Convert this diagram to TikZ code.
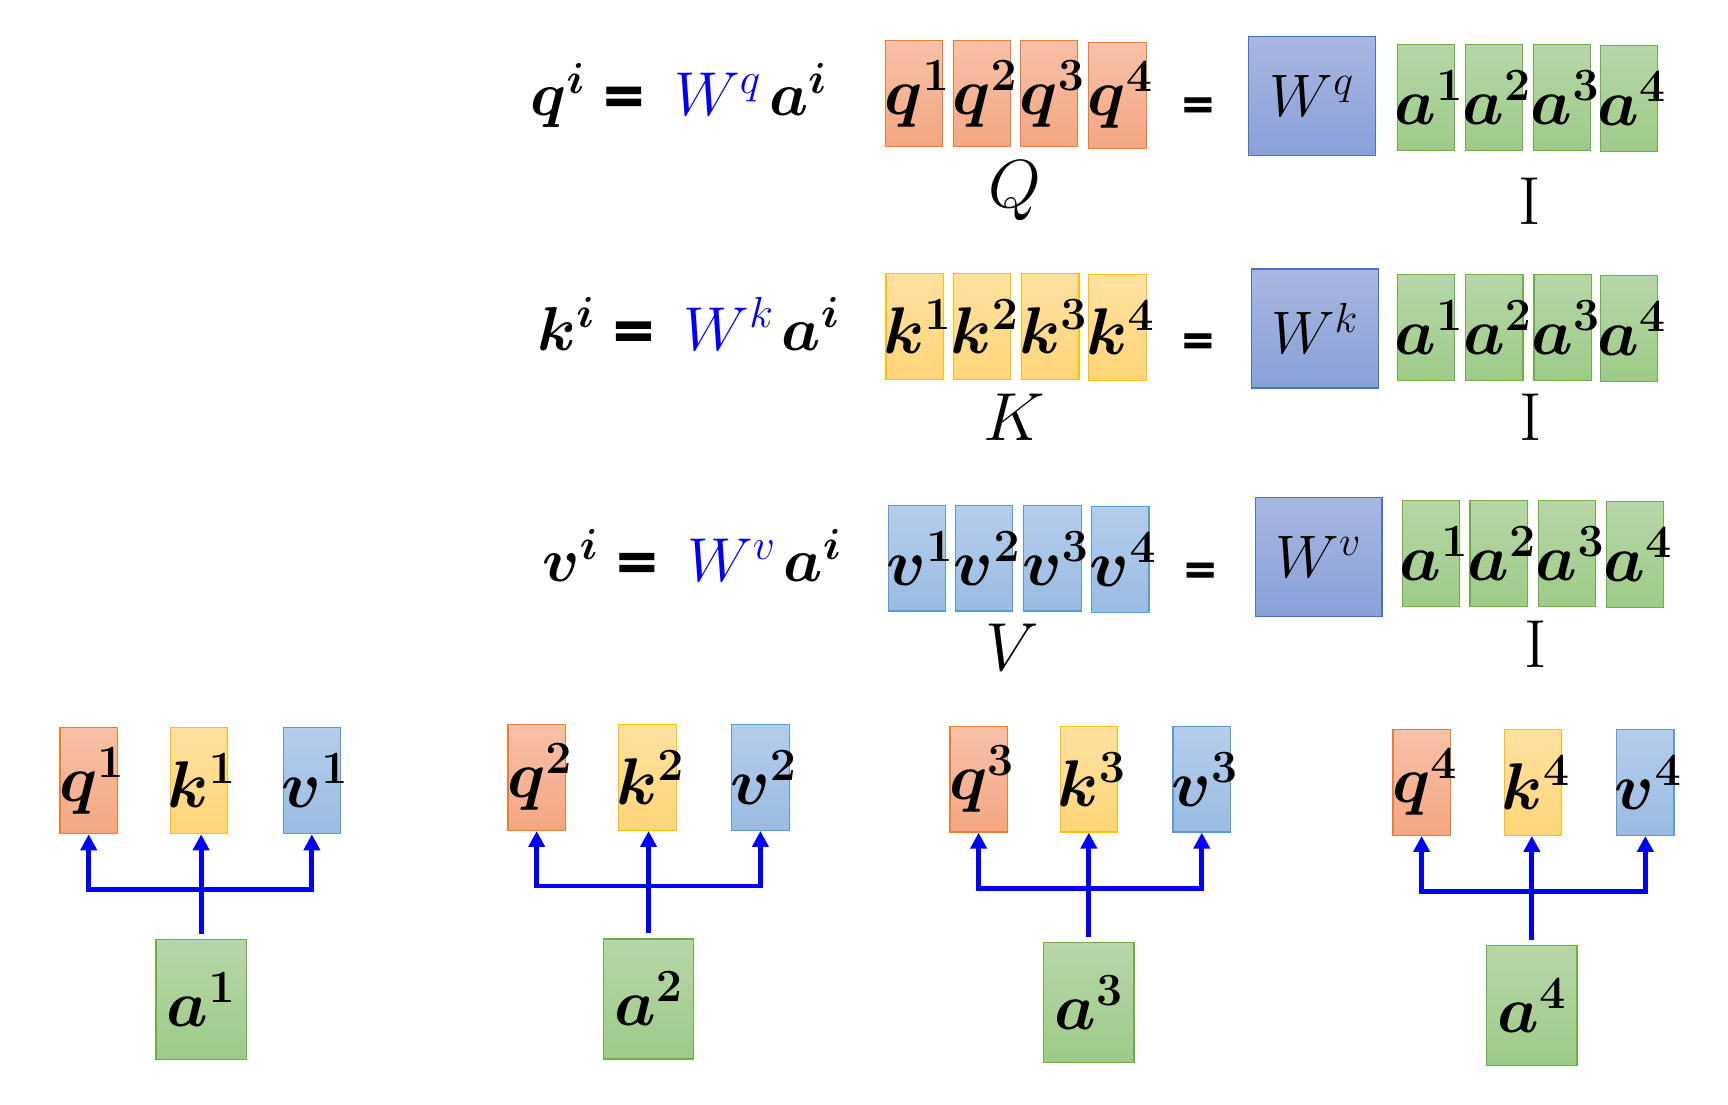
\RequirePackage{fix-cm}
\documentclass[tikz,border=0pt]{standalone}
\usepackage{fontspec}
\usetikzlibrary{arrows.meta}
\newfontfamily\eqsign[BoldFeatures={FakeBold=2}]{DejaVu Sans}
\definecolor{orT}{RGB}{247,193,167}\definecolor{orB}{RGB}{244,166,131}\definecolor{orD}{RGB}{237,125,49}
\definecolor{yeT}{RGB}{255,225,160}\definecolor{yeB}{RGB}{255,213,120}\definecolor{yeD}{RGB}{255,192,0}
\definecolor{blT}{RGB}{181,205,235}\definecolor{blB}{RGB}{155,187,227}\definecolor{blD}{RGB}{91,155,213}
\definecolor{grT}{RGB}{183,214,169}\definecolor{grB}{RGB}{158,203,135}\definecolor{grD}{RGB}{112,173,71}
\definecolor{wT}{RGB}{169,182,225}\definecolor{wB}{RGB}{137,160,216}\definecolor{wD}{RGB}{68,114,196}
\newcommand\celltxt[1]{\makebox[0pt]{\hspace{3pt}$#1$}}
\newcommand\smalleq{\mkern4mu\raisebox{1.2pt}{\eqsign\bfseries\fontsize{27}{29}\selectfont =}\mkern7mu}
\tikzset{
  cell/.style={draw, line width=0.6pt, inner sep=0pt, minimum width=28.7pt, minimum height=52.9pt,
    font=\fontsize{33}{40}\selectfont\boldmath},
  qcell/.style={cell, draw=orD, top color=orT, bottom color=orB},
  kcell/.style={cell, draw=yeD, top color=yeT, bottom color=yeB},
  vcell/.style={cell, draw=blD, top color=blT, bottom color=blB},
  acell/.style={cell, draw=grD, top color=grT, bottom color=grB},
  bigacell/.style={acell, minimum width=45.2pt, minimum height=60pt},
  wcell/.style={draw=wD, line width=0.6pt, top color=wT, bottom color=wB, inner sep=0pt,
    minimum width=63.4pt, minimum height=59.5pt, font=\fontsize{30}{36}\selectfont},
  eqn/.style={anchor=base, inner sep=0pt, font=\fontsize{31}{40}\selectfont\boldmath},
  lbl/.style={anchor=base, inner sep=0pt, font=\fontsize{34}{40}\selectfont},
  eqs/.style={inner sep=0pt, font=\eqsign\bfseries\fontsize{21}{24}\selectfont},
  arr/.style={draw=blue, line width=2.4pt, -{Triangle[width=8pt,length=8pt]}}
}
\begin{document}
\begin{tikzpicture}[x=0.551pt,y=-0.551pt]
\useasboundingbox (0,0) rectangle (1568,1002);

% equations
\node[eqn] (eq1) at (616,105) {$q^i\smalleq\mbox{\unboldmath$\color{blue}W^{q}$}\mkern2mu a^i$};
\node[eqn] (eq2) at (625,318) {$k^i\smalleq\mbox{\unboldmath$\color{blue}W^{k}$}\mkern2mu a^i$};
\node[eqn] (eq3) at (628,528) {$v^i\smalleq\mbox{\unboldmath$\color{blue}W^{v}$}\mkern2mu a^i$};

% row Q
\node[qcell] (Q1) at (829.5,85) {\celltxt{q^1}};
\node[qcell] (Q2) at (891,85) {\celltxt{q^2}};
\node[qcell] (Q3) at (952,85) {\celltxt{q^3}};
\node[qcell] (Q4) at (1014,86.5) {\celltxt{q^4}};
\node[lbl] (Ql) at (921,188) {$Q$};
\node[eqs] (e1) at (1087,98) {=};
\node[wcell] (Wq) at (1190.5,87) {$W^q$};
\node[acell] (A11) at (1294,88.5) {\celltxt{a^1}};
\node[acell] (A12) at (1355.5,88.5) {\celltxt{a^2}};
\node[acell] (A13) at (1417.5,88.5) {\celltxt{a^3}};
\node[acell] (A14) at (1478,89.5) {\celltxt{a^4}};
\node[lbl] (I1) at (1388,204) {I};

% row K
\node[kcell] (K1) at (830,296) {\celltxt{k^1}};
\node[kcell] (K2) at (891,296) {\celltxt{k^2}};
\node[kcell] (K3) at (953,296) {\celltxt{k^3}};
\node[kcell] (K4) at (1014,297) {\celltxt{k^4}};
\node[lbl] (Kl) at (920,400) {$K$};
\node[eqs] (e2) at (1087,312) {=};
\node[wcell] (Wk) at (1193,298) {$W^k$};
\node[acell] (A21) at (1294,297) {\celltxt{a^1}};
\node[acell] (A22) at (1356,297) {\celltxt{a^2}};
\node[acell] (A23) at (1418,297) {\celltxt{a^3}};
\node[acell] (A24) at (1478,298) {\celltxt{a^4}};
\node[lbl] (I2) at (1389,400) {I};

% row V
\node[vcell] (V1) at (832,506.5) {\celltxt{v^1}};
\node[vcell] (V2) at (893,506.5) {\celltxt{v^2}};
\node[vcell] (V3) at (955,506.5) {\celltxt{v^3}};
\node[vcell] (V4) at (1016.5,507.5) {\celltxt{v^4}};
\node[lbl] (Vl) at (919,608) {$V$};
\node[eqs] (e3) at (1089,520) {=};
\node[wcell] (Wv) at (1196.5,505.5) {$W^v$};
\node[acell] (A31) at (1298.5,502) {\celltxt{a^1}};
\node[acell] (A32) at (1360,502) {\celltxt{a^2}};
\node[acell] (A33) at (1422,502) {\celltxt{a^3}};
\node[acell] (A34) at (1483.5,503) {\celltxt{a^4}};
\node[lbl] (I3) at (1393,606) {I};

% bottom groups
\foreach \g/\xq/\xk/\xv/\yb/\xa/\ya/\hy in {
  1/80.5/180.5/283/708.5/182.5/907/807,
  2/487/587.5/690/705.5/588.5/906.5/804,
  3/888/988/1090.5/707/988/909.5/806,
  4/1290/1391/1493/710/1390/912.5/809}{
  \node[qcell] (q\g) at (\xq,\yb) {\celltxt{q^{\g}}};
  \node[kcell] (k\g) at (\xk,\yb) {\celltxt{k^{\g}}};
  \node[vcell] (v\g) at (\xv,\yb) {\celltxt{v^{\g}}};
  \node[bigacell] (a\g) at (\xa,\ya) {$a^{\g}$};
  \coordinate (h\g) at (a\g.north |- 0,\hy);
  \draw[arr] ([yshift=2.5pt]a\g.north) -- (a\g.north |- k\g.south);
  \draw[arr] (h\g) -| (q\g.south);
  \draw[arr] (h\g) -| (v\g.south);
}
\end{tikzpicture}
\end{document}
